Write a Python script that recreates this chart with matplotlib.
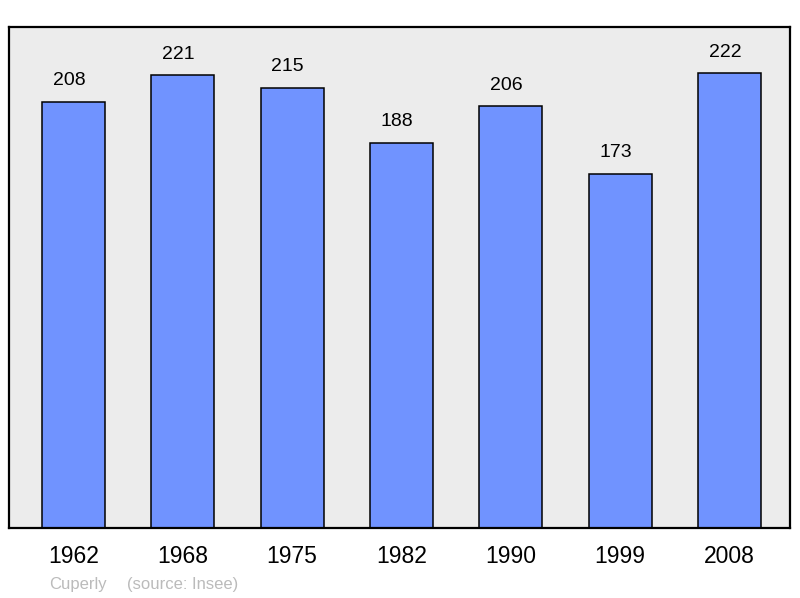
import matplotlib
matplotlib.use("Agg")
import matplotlib.pyplot as plt

years = ["1962", "1968", "1975", "1982", "1990", "1999", "2008"]
population = [208, 221, 215, 188, 206, 173, 222]

plt.rcParams["font.family"] = ["Liberation Sans", "DejaVu Sans"]

fig = plt.figure(figsize=(8, 5.98), dpi=100)
ax = fig.add_axes([9 / 800, 70 / 598, 781 / 800, 501 / 598])
ax.set_facecolor("#ececec")

x = range(len(years))
bars = ax.bar(x, population, width=0.576, color="#7093ff",
              edgecolor="black", linewidth=1.1, zorder=2)

# value labels sit a little left of the bar centre, like the original
for rect, val in zip(bars, population):
    ax.annotate(str(val), (rect.get_x() + rect.get_width() / 2, rect.get_height()),
                xytext=(-3.2, 9), textcoords="offset points",
                ha="center", va="bottom", fontsize=14)

ax.set_xlim(-0.59, 6.553)
ax.set_ylim(0, 244.6)
ax.set_xticks(list(x))
ax.set_xticklabels(years, fontsize=16.5)
ax.tick_params(axis="x", length=0, pad=12.5)
ax.set_yticks([])
for sp in ax.spines.values():
    sp.set_linewidth(1.6)

fig.text(49 / 800, 1 - 584 / 598, "Cuperly", color="#bbbbbb", fontsize=12, va="center")
fig.text(127 / 800, 1 - 584 / 598, "(source: Insee)", color="#bbbbbb", fontsize=12, va="center")

fig.savefig("out.png", dpi=100)
